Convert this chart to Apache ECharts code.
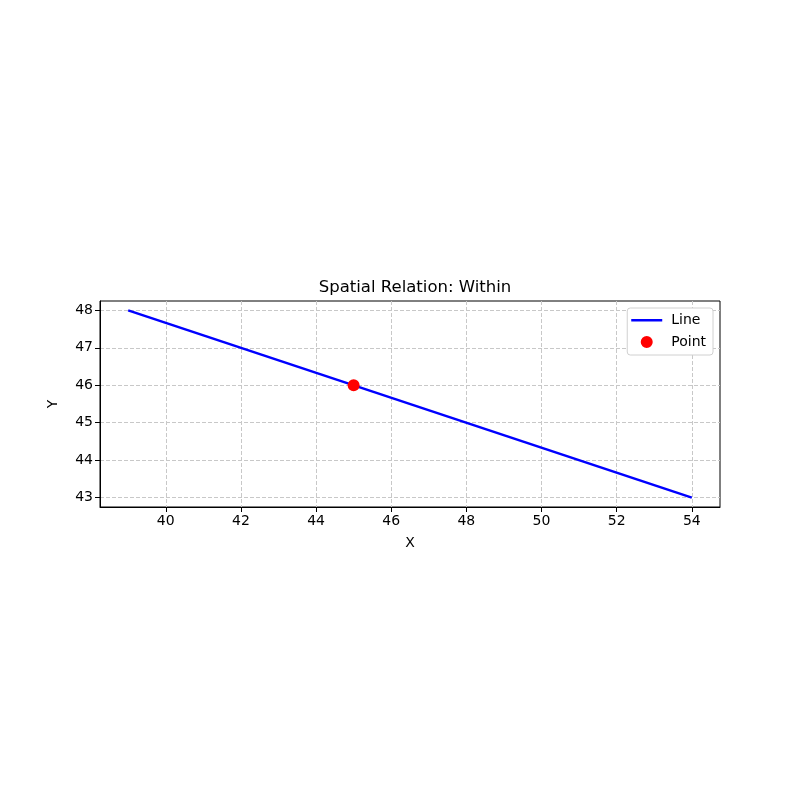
<!DOCTYPE html>
<html>
<head>
<meta charset="utf-8">
<script src="https://cdn.jsdelivr.net/npm/echarts@6/dist/echarts.min.js"></script>
<style>
  html, body { margin: 0; padding: 0; background: #fff; }
  #main { width: 800px; height: 800px; }
</style>
</head>
<body>
<div id="main"></div>
<script>
// data
var lineXY = [[39, 48], [54, 43]];
var pointXY = [[45, 46]];
var xTicks = [40, 42, 44, 46, 48, 50, 52, 54];
var yTicks = [43, 44, 45, 46, 47, 48];

var chartDom = document.getElementById('main');
var myChart = echarts.init(chartDom);
var option;

var font = 'DejaVu Sans';
// legend icons drawn inside a 31x14 box (tiny corner dots keep the box size)
var lineIcon = 'path://M0,0L0.01,0M0,6L31,6L31,8.5L0,8.5ZM31,14L31.01,14';
var dotIcon = 'path://M0,0L0.01,0M9.5,7a6,6 0 1,0 12,0a6,6 0 1,0 -12,0ZM31,14L31.01,14';

option = {
  animation: false,
  textStyle: { fontFamily: font },
  title: {
    text: 'Spatial Relation: Within',
    left: 410,
    textAlign: 'center',
    top: 274,
    textStyle: { fontFamily: font, fontSize: 16.5, fontWeight: 'normal', color: '#000' }
  },
  grid: {
    left: 100, right: 80, top: 301, bottom: 293,
    show: true, borderColor: '#000', borderWidth: 1
  },
  legend: {
    orient: 'vertical',
    right: 87,
    top: 308,
    padding: [5, 7, 6, 4],
    itemGap: 8,
    itemWidth: 31,
    itemHeight: 14,
    align: 'left',
    borderColor: '#d0d0d0',
    borderWidth: 1,
    borderRadius: 3,
    backgroundColor: '#fff',
    textStyle: { fontFamily: font, fontSize: 14, color: '#000', padding: [0, 0, 0, 4] },
    data: [
      { name: 'Line', icon: lineIcon, itemStyle: { color: '#0000ff' } },
      { name: 'Point', icon: dotIcon, itemStyle: { color: '#ff0000' } }
    ]
  },
  xAxis: {
    type: 'value',
    min: 38.25,
    max: 54.75,
    name: 'X',
    nameLocation: 'middle',
    nameGap: 29,
    nameTextStyle: { fontFamily: font, fontSize: 14, color: '#000' },
    axisLine: { show: true, lineStyle: { color: '#000' } },
    axisTick: { show: true, length: 5, lineStyle: { color: '#000' }, customValues: xTicks },
    axisLabel: { fontFamily: font, fontSize: 14, color: '#000', margin: 7, customValues: xTicks },
    splitLine: { show: true, lineStyle: { color: '#c8c8c8', type: [4, 2] } }
  },
  yAxis: {
    type: 'value',
    min: 42.75,
    max: 48.25,
    name: 'Y',
    nameLocation: 'middle',
    nameGap: 40,
    nameTextStyle: { fontFamily: font, fontSize: 14, color: '#000' },
    axisLine: { show: true, lineStyle: { color: '#000' } },
    axisTick: { show: true, length: 5, lineStyle: { color: '#000' }, customValues: yTicks },
    axisLabel: { fontFamily: font, fontSize: 14, color: '#000', margin: 7, customValues: yTicks },
    splitLine: { show: true, lineStyle: { color: '#c8c8c8', type: [4, 2] } }
  },
  series: [
    {
      name: 'Line',
      type: 'line',
      data: lineXY,
      showSymbol: false,
      symbol: 'none',
      color: '#0000ff',
      lineStyle: { color: '#0000ff', width: 2.6 },
      z: 2
    },
    {
      name: 'Point',
      type: 'scatter',
      data: pointXY,
      symbolSize: 12,
      itemStyle: { color: '#ff0000', opacity: 1 },
      z: 3
    }
  ]
};

option && myChart.setOption(option);
</script>
</body>
</html>
